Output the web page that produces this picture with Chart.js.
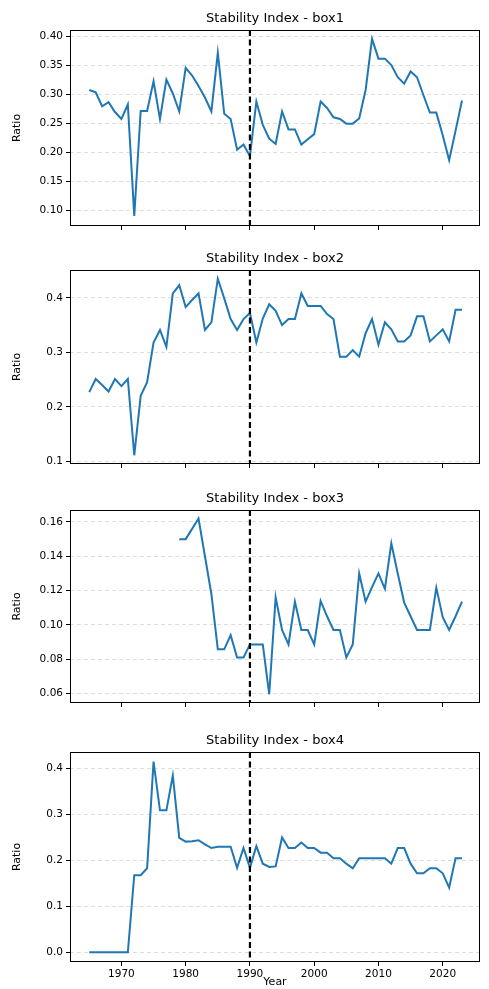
<!DOCTYPE html>
<html><head><meta charset="utf-8">
<script src="https://cdn.jsdelivr.net/npm/chart.js@4"></script>
<style>
body{margin:0;background:#fff;width:489px;height:989px;position:relative;overflow:hidden}
.p{position:absolute;left:0;width:489px}
</style></head><body>
<div class="p" style="top:0;height:245px"><canvas id="c1"></canvas></div>
<div class="p" style="top:245px;height:240px"><canvas id="c2"></canvas></div>
<div class="p" style="top:485px;height:243px"><canvas id="c3"></canvas></div>
<div class="p" style="top:728px;height:261px"><canvas id="c4"></canvas></div>
<script>
const years = [];
for (let y = 1965; y <= 2023; y++) years.push(y);

const box1 = [.307,.303,.279,.286,.269,.257,.282,.090,.271,.271,.322,.257,.325,.301,.270,.345,.332,.314,.294,.270,
  .371,.266,.257,.204,.213,.193,.287,.247,.223,.214,.270,.239,.239,.213,.222,.231,.287,.276,.260,.257,
  .249,.249,.258,.307,.395,.361,.361,.350,.329,.318,.339,.329,.298,.268,.268,.229,.186,.237,.289];
const box2 = [.227,.251,.240,.228,.251,.238,.251,.111,.220,.245,.318,.341,.310,.408,.423,.383,.396,.408,.341,.355,
  .435,.399,.361,.341,.361,.372,.318,.362,.388,.376,.350,.361,.361,.408,.385,.385,.385,.370,.361,.292,
  .292,.304,.292,.335,.361,.314,.355,.342,.320,.320,.331,.366,.366,.320,.331,.342,.320,.378,.378];
const box3 = [null,null,null,null,null,null,null,null,null,null,null,null,null,null,.150,.150,.156,.162,.140,.118,
  .0857,.0857,.094,.081,.081,.0886,.0886,.0886,.0595,.116,.097,.0886,.1135,.097,.097,.0886,.114,.105,.097,.097,
  .081,.0886,.130,.1135,.122,.130,.121,.1476,.130,.113,.105,.097,.097,.097,.1217,.1045,.097,.105,.1135];
const box4 = [0,0,0,0,0,0,0,.168,.168,.183,.415,.309,.309,.385,.249,.241,.242,.244,.235,.227,
  .230,.230,.230,.184,.227,.184,.231,.193,.186,.187,.250,.227,.227,.239,.227,.227,.217,.217,.205,.205,
  .193,.183,.205,.205,.205,.205,.205,.193,.227,.227,.193,.172,.172,.183,.183,.172,.141,.205,.205];

const panels = [
  { id: 'c1', title: 'Stability Index - box1', data: box1, min: 0.0726, max: 0.4104, ticks: [0.10,0.15,0.20,0.25,0.30,0.35,0.40], dec: 2, padTop: 30, xh: 19, last: false },
  { id: 'c2', title: 'Stability Index - box2', data: box2, min: 0.095, max: 0.451, ticks: [0.1,0.2,0.3,0.4], dec: 1, padTop: 25, xh: 21, last: false },
  { id: 'c3', title: 'Stability Index - box3', data: box3, min: 0.0544, max: 0.167, ticks: [0.06,0.08,0.10,0.12,0.14,0.16], dec: 2, padTop: 25, xh: 25, last: false },
  { id: 'c4', title: 'Stability Index - box4', data: box4, min: -0.021, max: 0.436, ticks: [0,0.1,0.2,0.3,0.4], dec: 1, padTop: 24, xh: 27, last: true },
];

const FONT = 'DejaVu Sans, sans-serif';

const overlay = {
  id: 'overlay',
  afterDatasetsDraw(chart, args, opts) {
    const c = chart.ctx, a = chart.chartArea;
    const x = chart.scales.x.getPixelForValue(1990);
    c.save();
    c.strokeStyle = '#000';
    c.lineWidth = 2.2;
    c.setLineDash([6, 3.5]);
    c.beginPath();
    c.moveTo(x, a.top);
    c.lineTo(x, a.bottom);
    c.stroke();
    c.setLineDash([]);
    c.lineWidth = 1;
    c.strokeRect(a.left + 0.5, a.top + 0.5, a.right - a.left - 1, a.bottom - a.top - 1);
    c.fillStyle = '#000';
    c.font = '13px ' + FONT;
    c.textAlign = 'center';
    c.textBaseline = 'bottom';
    c.fillText(opts.title, (a.left + a.right) / 2, a.top - 5);
    c.restore();
  },
};

for (const p of panels) {
  new Chart(document.getElementById(p.id), {
    type: 'line',
    data: {
      datasets: [{
        data: years.map((y, i) => ({ x: y, y: p.data[i] })),
        borderColor: '#1f77b4',
        borderWidth: 2,
        pointRadius: 0,
        tension: 0,
        spanGaps: false,
      }],
    },
    options: {
      responsive: true,
      maintainAspectRatio: false,
      animation: false,
      layout: { padding: { top: p.padTop, right: 9, left: 9, bottom: 0 } },
      plugins: { legend: { display: false }, tooltip: { enabled: false }, overlay: { title: p.title } },
      scales: {
        x: {
          type: 'linear', min: 1962, max: 2025.8,
          afterBuildTicks: (ax) => { ax.ticks = [1970,1980,1990,2000,2010,2020].map(v => ({ value: v })); },
          afterFit: (ax) => { ax.height = p.xh; },
          border: { display: false },
          grid: { drawOnChartArea: false, tickLength: 4, color: '#000' },
          ticks: { display: p.last, color: '#000', font: { size: 10.5, family: FONT }, padding: 2, maxRotation: 0, callback: (v) => String(v) },
          title: { display: p.last, text: 'Year', color: '#000', font: { size: 11, family: FONT }, padding: 0 },
        },
        y: {
          min: p.min, max: p.max,
          afterBuildTicks: (ax) => { ax.ticks = p.ticks.map(v => ({ value: v })); },
          afterFit: (ax) => { ax.width = 61; },
          border: { display: false, dash: [4, 3] },
          grid: { color: 'rgba(0,0,0,0.13)', tickLength: 4, tickColor: '#000' },
          ticks: { color: '#000', font: { size: 10.5, family: FONT }, padding: 3, callback: (v) => v.toFixed(p.dec) },
          title: { display: true, text: 'Ratio', color: '#000', font: { size: 11, family: FONT }, padding: 2 },
        },
      },
    },
    plugins: [overlay],
  });
}
</script>
</body></html>
